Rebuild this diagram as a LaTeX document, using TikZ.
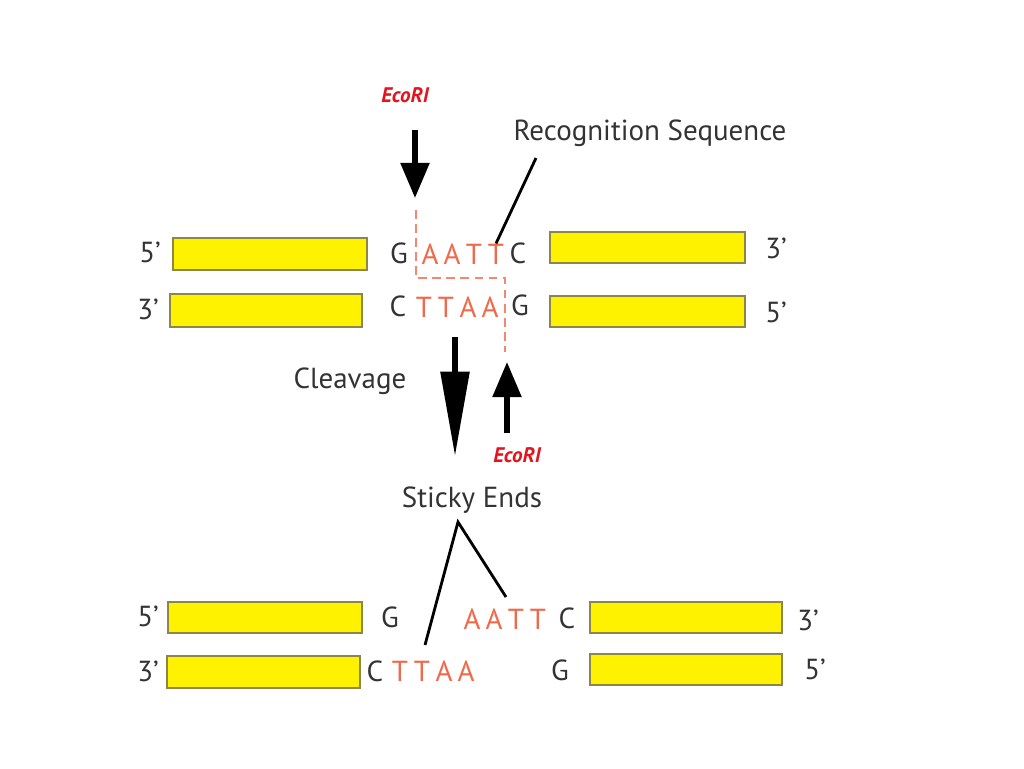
\documentclass[tikz,border=0pt]{standalone}
\usepackage{fontspec}
\setmainfont{PT Sans}
\usetikzlibrary{arrows.meta}
\definecolor{bandyellow}{RGB}{255,242,0}
\definecolor{bandedge}{RGB}{140,135,70}
\definecolor{basered}{RGB}{240,105,75}
\definecolor{enzred}{RGB}{228,20,30}

\begin{document}
\begin{tikzpicture}[x=0.02cm,y=-0.02cm,line cap=butt,
  band/.style={draw=bandedge,fill=bandyellow,line width=1.4pt},
  lbl/.style={font=\fontsize{16.5}{18}\selectfont,text=black!80,inner sep=0pt},
  base/.style={lbl,text=basered},
  enz/.style={font=\fontsize{12}{14}\selectfont\bfseries\itshape,text=enzred,inner sep=0pt},
  cut/.style={draw=basered!80,dash pattern=on 5pt off 3pt,line width=0.8pt},
  bigarrow/.style={line width=3pt,-{Triangle[length=#1,width=16pt]}},
  bigarrow/.default=20pt]
\useasboundingbox (0,0) rectangle (1024,768);

% yellow bands
\foreach \xa/\ya/\xb/\yb in {173/238/367/270, 550/232/745/263,
  170/294/362/327, 550/296/745/327,
  168/602/362/633, 590/602/782/633,
  167/656/360/688, 590/654/782/685}
  \draw[band] (\xa,\ya) rectangle (\xb,\yb);

% ends
\node[lbl] (p5a) at (150,252) {5’};
\node[lbl] (p3a) at (776,248) {3’};
\node[lbl] (p3b) at (148,309) {3’};
\node[lbl] (p5b) at (776,312) {5’};
\node[lbl] (p5c) at (148,616) {5’};
\node[lbl] (p3c) at (808,620) {3’};
\node[lbl] (p3d) at (148,671) {3’};
\node[lbl] (p5d) at (815,669) {5’};

% uncut site
\node[lbl] (g1) at (399,253) {G};
\foreach \b [count=\i] in {A,A,T,T}
  \node[base] (top\i) at ({430+22*(\i-1)},254) {\b};
\node[lbl] (c1) at (518,253) {C};
\node[lbl] (c2) at (398,306) {C};
\foreach \b [count=\i] in {T,T,A,A}
  \node[base] (bot\i) at ({424+22*(\i-1)},307) {\b};
\node[lbl] (g2) at (520,305) {G};

% cut line
\draw[cut] (416,210) -- (416,278) -- (505,278) -- (505,352);

% enzyme arrows
\node[enz] (eco1) at (405,95) {EcoRI};
\coordinate (e1s) at (415,130);
\coordinate (e1e) at (415,198);
\draw[bigarrow] (e1s) -- (e1e);
\node[enz] (eco2) at (517,455) {EcoRI};
\coordinate (e2s) at (507,433);
\coordinate (e2e) at (507,362);
\draw[bigarrow] (e2s) -- (e2e);

\node[lbl] (recog) at (650,133) {Recognition Sequence};
\coordinate (r1) at (536,158);
\draw[line width=1.6pt] (r1) -- (top4.north);

\node[lbl] (cleave) at (350,381) {Cleavage};
\coordinate (c1s) at (455,337);
\coordinate (c1e) at (455,456);
\draw[bigarrow=48pt] (c1s) -- (c1e);

% cut products
\node[lbl] (sticky) at (472,500) {Sticky Ends};
\node[lbl] (g3) at (390,617) {G};
\foreach \b [count=\i] in {A,A,T,T}
  \node[base] (sa\i) at ({472+22*(\i-1)},619) {\b};
\node[lbl] (c3) at (567,618) {C};
\node[lbl] (c4) at (375,671) {C};
\foreach \b [count=\i] in {T,T,A,A}
  \node[base] (sb\i) at ({400+22*(\i-1)},671) {\b};
\node[lbl] (g4) at (560,670) {G};

\coordinate (apex) at (458,522);
\coordinate (leg1) at (425,645);
\coordinate (leg2) at (506,597);
\draw[line width=1.6pt,line join=miter] (leg1) -- (apex) -- (leg2);
\end{tikzpicture}
\end{document}
